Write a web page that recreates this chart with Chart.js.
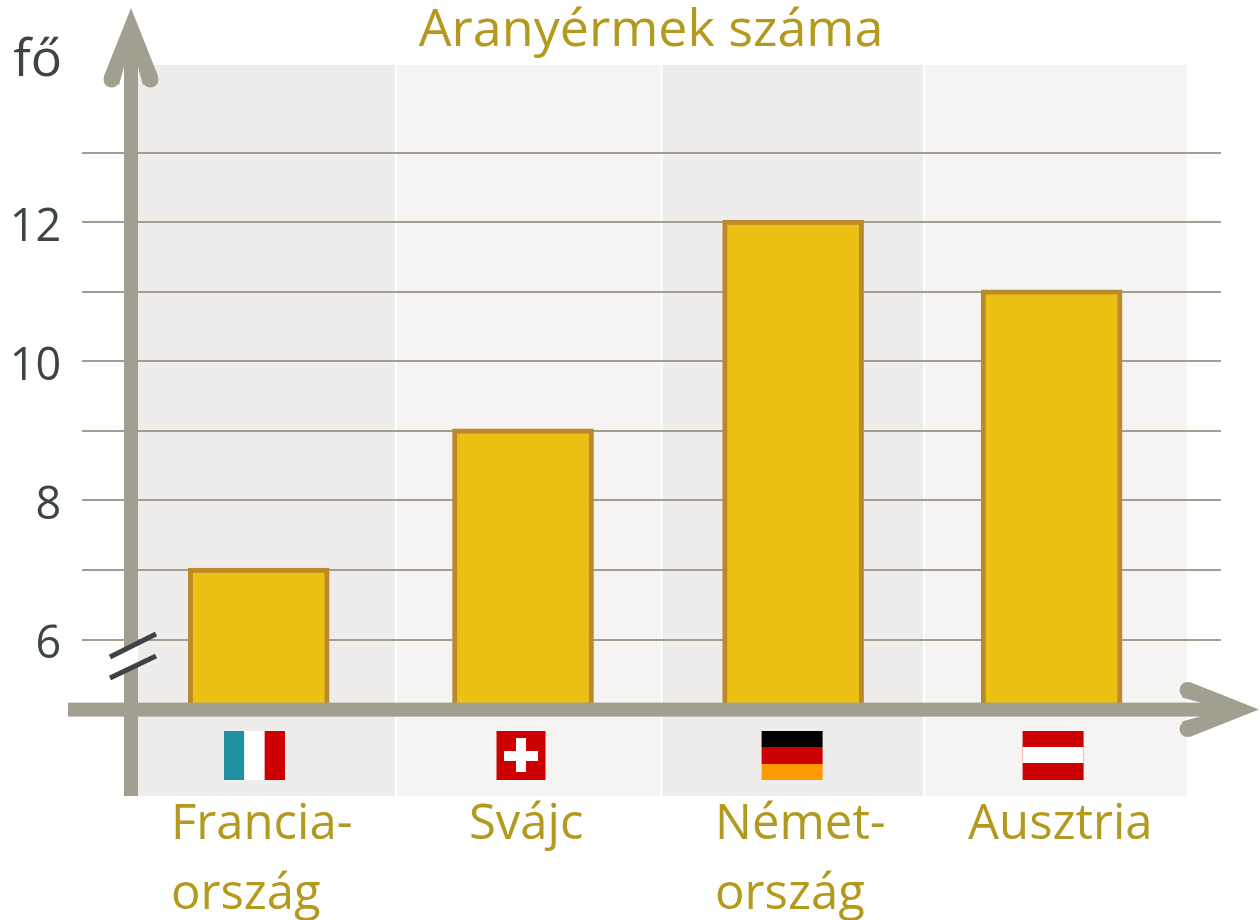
<!DOCTYPE html>
<html lang="hu">
<head>
<meta charset="utf-8">
<title>Aranyérmek száma</title>
<style>html,body{margin:0;padding:0;background:#fff}canvas{display:block}</style>
<script src="https://cdn.jsdelivr.net/npm/chart.js@4"></script>
</head>
<body>
<canvas id="c" width="1260" height="920"></canvas>
<script>
const categories = [["Francia-","ország"],["Svájc"],["Német-","ország"],["Ausztria"]];
const goldMedals = [7, 9, 12, 11];
const yTickLabels = [6, 8, 10, 12];
const gridValues = [6, 7, 8, 9, 10, 11, 12, 13];
const chartTitle = "Aranyérmek száma";
const yUnit = "fő";
const flagCodes = ["fr","ch","de","at"];

// layout tuning
const FONT = '"Open Sans"';
const GOLD = '#b39a1e', DARK = '#3d4444', AXIS = '#a1a090', GRID = '#a1a090';
const barNudge = [-4.3,-5.7,-1.3,-8.5];
const flagNudge = [-8.5,-7.7,-2.3,-7];
const bandEdgeNudge = [0,0,0,-3,0];
const labelNudge = [-92,-59.7,-79.3,-92];

function arrow(ctx,tx,ty,ang){
  ctx.save();
  ctx.translate(tx,ty); ctx.rotate(ang);
  ctx.beginPath();
  ctx.moveTo(0,0);
  ctx.lineTo(68,-27); ctx.lineTo(77,-12); ctx.lineTo(59,-7);
  ctx.lineTo(59,7); ctx.lineTo(77,12); ctx.lineTo(68,27);
  ctx.closePath(); ctx.fill();
  [-19.5,19.5].forEach(b=>{ctx.beginPath();ctx.arc(71.5,b,8,0,Math.PI*2);ctx.fill();});
  ctx.restore();
}

const decor = {
  id:'decor',
  afterLayout(chart){ chart.scales.y.left = 0; },
  afterDatasetsUpdate(chart){
    const meta = chart.getDatasetMeta(0);
    meta.data.forEach((el,i)=>{ el.x += barNudge[i]; el.y -= 2.5; });
  },
  afterUpdate(chart){
    const x = chart.scales.x;
    x.getLabelItems(chart.chartArea).forEach((item,i)=>{
      item.options.translation = [item.options.translation[0]+labelNudge[i], item.options.translation[1]];
    });
  },
  beforeDatasetsDraw(chart){
    const {ctx,chartArea:a,scales:{x,y}} = chart;
    ctx.save();
    const step = x.getPixelForValue(1)-x.getPixelForValue(0);
    categories.forEach((_,i)=>{
      const c = x.getPixelForValue(i);
      const l = Math.max(c-step/2+1+bandEdgeNudge[i], a.left+6), r = Math.min(c+step/2-1+bandEdgeNudge[i+1], a.right-6);
      ctx.fillStyle = i%2 ? '#f5f4f3' : '#eeedec';
      ctx.fillRect(l,a.top,r-l,a.bottom-a.top);
    });
    ctx.strokeStyle = GRID; ctx.lineWidth = 2;
    gridValues.forEach(v=>{
      const p = Math.floor(y.getPixelForValue(v));
      ctx.beginPath(); ctx.moveTo(82,p); ctx.lineTo(1221,p); ctx.stroke();
    });
    ctx.restore();
  },
  afterDatasetsDraw(chart){
    const {ctx,chartArea:a,scales:{x,y}} = chart;
    ctx.save();
    const ax = 131, ay = y.getPixelForValue(5);
    ctx.fillStyle = AXIS;
    ctx.fillRect(ax-7,60,14,a.bottom-60);
    arrow(ctx,ax,8,Math.PI/2);
    ctx.fillRect(68,ay-7,1140,14);
    arrow(ctx,1259,ay,Math.PI);
    // axis break
    ctx.fillStyle='#fff';
    ctx.beginPath(); ctx.moveTo(124,650); ctx.lineTo(138,643); ctx.lineTo(138,664); ctx.lineTo(124,671); ctx.closePath(); ctx.fill();
    ctx.strokeStyle='#3d4242'; ctx.lineWidth=5; ctx.lineCap='butt';
    [[110,657,156,634],[110,678,156,656]].forEach(s=>{
      ctx.beginPath(); ctx.moveTo(s[0],s[1]); ctx.lineTo(s[2],s[3]); ctx.stroke();
    });
    // unit
    ctx.font = '52px '+FONT; ctx.fillStyle = DARK; ctx.textAlign='right'; ctx.textBaseline='middle';
    ctx.fillText(yUnit,62,61);
    // flags
    const top=731, h=49;
    flagCodes.forEach((code,i)=>{
      const c = x.getPixelForValue(i)+flagNudge[i];
      if(code==='fr'){ const w=61,l=c-w/2,t=w/3;
        ctx.fillStyle='#20919f'; ctx.fillRect(l,top,t,h);
        ctx.fillStyle='#fff'; ctx.fillRect(l+t,top,t,h);
        ctx.fillStyle='#cc0000'; ctx.fillRect(l+2*t,top,t,h);
      } else if(code==='ch'){ const w=49,l=c-w/2;
        ctx.fillStyle='#cc0000'; ctx.fillRect(l,top,w,h);
        ctx.fillStyle='#fff'; ctx.fillRect(c-5,top+7,10,34); ctx.fillRect(c-17,top+20,34,10);
      } else if(code==='de'){ const w=61,l=c-w/2;
        ctx.fillStyle='#000'; ctx.fillRect(l,top,w,16);
        ctx.fillStyle='#cc0000'; ctx.fillRect(l,top+16,w,17);
        ctx.fillStyle='#ff9900'; ctx.fillRect(l,top+33,w,16);
      } else { const w=61,l=c-w/2;
        ctx.fillStyle='#cc0000'; ctx.fillRect(l,top,w,h);
        ctx.fillStyle='#fff'; ctx.fillRect(l,top+16,w,16);
      }
    });
    ctx.restore();
  }
};

new Chart(document.getElementById('c'),{
  type:'bar',
  data:{labels:categories,datasets:[{
    label:chartTitle,data:goldMedals,base:5,
    backgroundColor:'#ecc114',borderColor:'#bb8a2c',borderWidth:5,
    borderSkipped:'bottom',barThickness:141
  }]},
  options:{
    responsive:false,animation:false,
    layout:{padding:{left:109.15,right:67.05,top:0,bottom:0}},
    plugins:{
      legend:{display:false},tooltip:{enabled:false},
      title:{display:true,text:chartTitle,color:GOLD,fullSize:true,
        font:{family:FONT,size:52,weight:'normal',lineHeight:1.2},
        padding:{top:0,bottom:2.6}}
    },
    scales:{
      x:{type:'category',offset:true,
        grid:{display:false},border:{display:false},
        ticks:{color:GOLD,font:{family:FONT,size:49,lineHeight:1.43},padding:-14,align:'start',autoSkip:false,maxRotation:0,minRotation:0},
        afterFit(s){s.height=124;s.paddingLeft=0;s.paddingRight=0;}},
      y:{type:'linear',min:3.758,max:14.267,
        grid:{display:false},border:{display:false},
        ticks:{stepSize:1,includeBounds:false,autoSkip:false,color:DARK,
          font:{family:FONT,size:45},padding:61,labelOffset:5,
          callback:v=>yTickLabels.includes(v)?String(v):''},
        afterFit(s){s.width=21;s.paddingTop=0;s.paddingBottom=0;}}
    }
  },
  plugins:[decor]
});
</script>
</body>
</html>
